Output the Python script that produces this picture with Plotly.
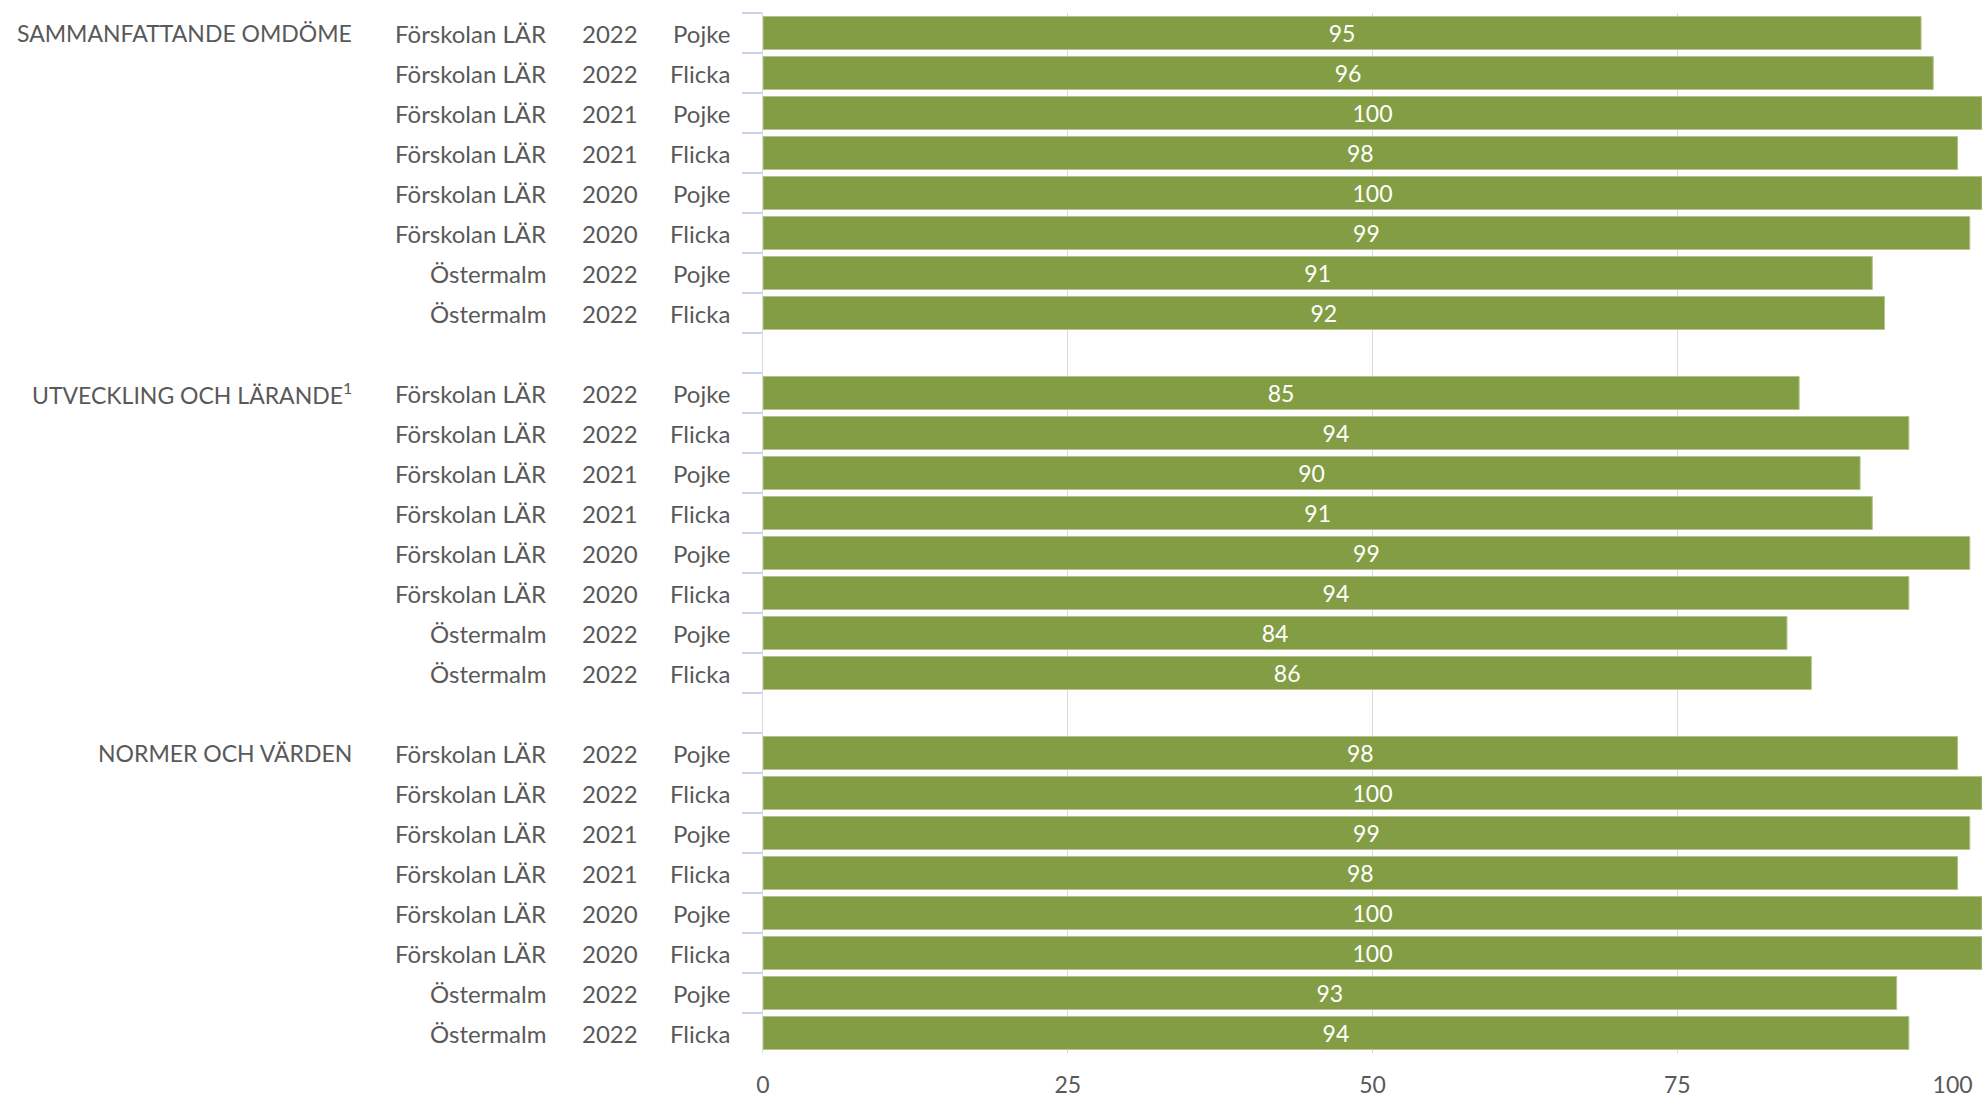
import plotly.graph_objects as go

# ---- data ----
groups = ["SAMMANFATTANDE OMDÖME", "UTVECKLING OCH LÄRANDE<sup>1</sup>", "NORMER OCH VÄRDEN"]
units = ["Förskolan LÄR"] * 6 + ["Östermalm"] * 2
years = ["2022", "2022", "2021", "2021", "2020", "2020", "2022", "2022"]
genders = ["Pojke", "Flicka", "Pojke", "Flicka", "Pojke", "Flicka", "Pojke", "Flicka"]
values_sammanfattande = [95, 96, 100, 98, 100, 99, 91, 92]
values_utveckling = [85, 94, 90, 91, 99, 94, 84, 86]
values_normer = [98, 100, 99, 98, 100, 100, 93, 94]
x_ticks = [0, 25, 50, 75, 100]
x_ticktext = ["0", "25", "50", "75", "100"]

group_values = [values_sammanfattande, values_utveckling, values_normer]

# ---- build categories (with blank spacer rows between groups) ----
cats, xs = [], []
for gi, vals in enumerate(group_values):
    for ri, v in enumerate(vals):
        cats.append(f"g{gi}r{ri}")
        xs.append(v)
    if gi < len(group_values) - 1:
        cats.append(f"gap{gi}")
        xs.append(None)

BAR = "#839D45"
TXT = "#595959"
FONT = "Lato"
LBL = 24

fig = go.Figure()
fig.add_trace(go.Bar(
    y=cats, x=xs, orientation="h",
    marker=dict(color=BAR, line=dict(color="#B4C48C", width=1)),
    text=[None if v is None else str(v) for v in xs],
    textposition="inside", insidetextanchor="middle", textangle=0,
    constraintext="none",
    textfont=dict(color="white", size=23, family=FONT),
    hoverinfo="skip", showlegend=False,
))

# plot area geometry (px) to place label columns left of the axis
L, PW = 763, 1219
def px2paper(px):
    return (px - L) / PW

annotations = []
for gi, vals in enumerate(group_values):
    annotations.append(dict(
        x=px2paper(354), xref="paper", y=f"g{gi}r0", yref="y",
        text=groups[gi], showarrow=False, xanchor="right", yanchor="middle",
        font=dict(size=23, color=TXT, family=FONT)))
    for ri in range(len(vals)):
        yc = f"g{gi}r{ri}"
        annotations.append(dict(
            x=px2paper(548), xref="paper", y=yc, yref="y", text=units[ri],
            showarrow=False, xanchor="right", yanchor="middle",
            font=dict(size=LBL, color=TXT, family=FONT)))
        annotations.append(dict(
            x=px2paper(610), xref="paper", y=yc, yref="y", text=years[ri],
            showarrow=False, xanchor="center", yanchor="middle",
            font=dict(size=LBL, color=TXT, family=FONT)))
        annotations.append(dict(
            x=px2paper(732), xref="paper", y=yc, yref="y", text=genders[ri],
            showarrow=False, xanchor="right", yanchor="middle",
            font=dict(size=LBL, color=TXT, family=FONT)))

# pad the last tick label so it stays inside the page (like the reference)
tick_labels = [t if t != "100" else t + "\u00a0" * 10 for t in x_ticktext]

fig.update_layout(
    width=1985, height=1099,
    margin=dict(l=763, r=3, t=13, b=46, autoexpand=False),
    paper_bgcolor="white", plot_bgcolor="white",
    bargap=0.175,
    font=dict(family=FONT, color=TXT),
    annotations=annotations,
    xaxis=dict(
        range=[0, 100], tickvals=x_ticks, ticktext=tick_labels,
        showgrid=True, gridcolor="#D9D9D9", gridwidth=1,
        zeroline=False, showline=False, ticks="",
        tickfont=dict(size=23, color=TXT, family=FONT),
        ticklabelstandoff=16, ticklabeloverflow="allow", automargin=False,
    ),
    yaxis=dict(
        type="category", categoryorder="array", categoryarray=cats,
        autorange="reversed", showticklabels=False,
        ticks="outside", tickson="boundaries", ticklen=20,
        tickcolor="#C9D3EA", tickwidth=2,
        showline=True, linecolor="#D9D9D9", linewidth=1,
        showgrid=False, zeroline=False, automargin=False,
    ),
)

fig.write_html(
    "out.html",
    config={"displayModeBar": False},
    post_script="document.body.style.margin='0';document.body.style.overflow='hidden';",
)
